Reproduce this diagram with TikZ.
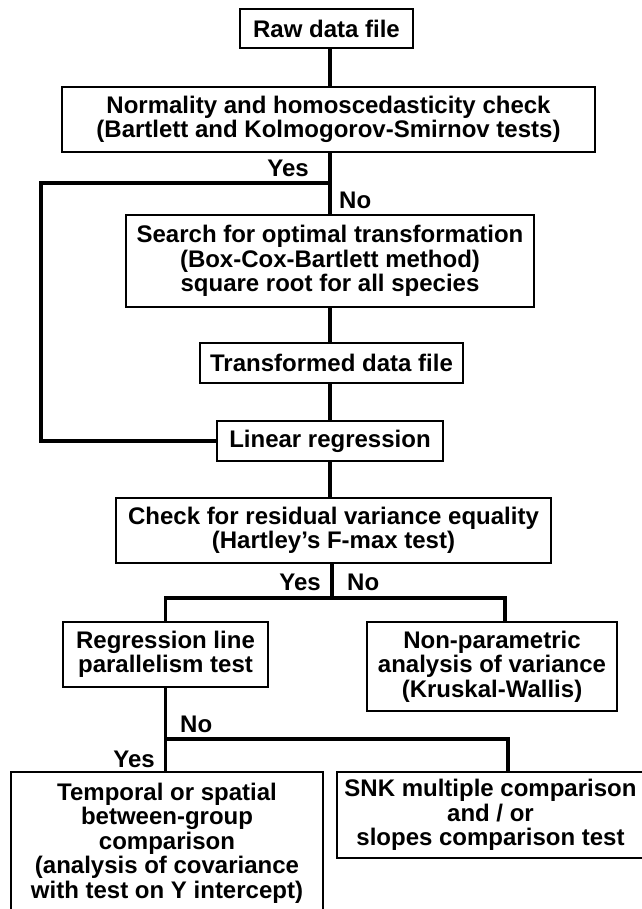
\documentclass[tikz,border=0pt]{standalone}
\usepackage{fontspec}
\setmainfont{Liberation Sans}
\begin{document}
\begin{tikzpicture}[x=1pt,y=-1pt,
  box/.style={draw, line width=1.5pt, align=center, inner sep=0pt,
    font=\bfseries\fontsize{24}{24.5}\selectfont},
  lbl/.style={inner sep=0pt, font=\bfseries\fontsize{24}{24.5}\selectfont},
  wire/.style={line width=3.5pt}]
\useasboundingbox (0,0) rectangle (641,909);
\fill[white] (0,0) rectangle (641,909);
% boxes
\node[box, minimum width=173pt, minimum height=39pt] (raw) at (326.5,28.5) {Raw data file};
\node[box, minimum width=533pt, minimum height=65pt] (norm) at (328.5,119.5)
  {Normality and homoscedasticity check\\(Bartlett and Kolmogorov-Smirnov tests)};
\node[box, minimum width=408pt, minimum height=92pt] (search) at (330,261)
  {Search for optimal transformation\\(Box-Cox-Bartlett method)\\square root for all species};
\node[box, minimum width=263pt, minimum height=40pt] (trans) at (331.5,363) {Transformed data file};
\node[box, minimum width=226pt, minimum height=40pt] (linear) at (330,441) {Linear regression};
\node[box, minimum width=435pt, minimum height=65pt] (check) at (333.5,530.5)
  {Check for residual variance equality\\(Hartley’s F-max test)};
\node[box, minimum width=205pt, minimum height=65pt] (regr) at (165.5,654.5)
  {Regression line\\parallelism test};
\node[box, minimum width=250pt, minimum height=89pt] (nonpar) at (492,666.5)
  {Non-parametric\\analysis of variance\\(Kruskal-Wallis)};
\node[box, minimum width=312pt, minimum height=142pt] (temp) at (167,843)
  {Temporal or spatial\\between-group\\comparison\\(analysis of covariance\\with test on Y intercept)};
\node[box, minimum width=307pt, minimum height=86pt] (snk) at (490.5,815)
  {SNK multiple comparison\\and / or\\slopes comparison test};
% connectors
\coordinate (sp) at (330,0);
\coordinate (br1) at (330,183);
\coordinate (lp1) at (41,183);
\draw[wire] (raw.south -| sp) -- (norm.north -| sp);
\draw[wire] (norm.south -| sp) -- (search.north -| sp);
\draw[wire] (br1) -- (lp1) |- (linear.west);
\draw[wire] (search.south -| sp) -- (trans.north -| sp);
\draw[wire] (trans.south -| sp) -- (linear.north -| sp);
\draw[wire] (linear.south -| sp) -- (check.north -| sp);
\coordinate (br2) at (332,598);
\coordinate (d2) at (505,598);
\draw[wire] (check.south -| br2) -- (br2);
\draw[wire] (regr.north) |- (br2) -- (d2) -- (d2 |- nonpar.north);
\coordinate (br3) at (166,739);
\coordinate (d3) at (508,739);
\draw[wire] (regr.south) -- (regr.south |- temp.north);
\draw[wire] (br3) -- (d3) -- (d3 |- snk.north);
% labels
\node[lbl, anchor=east] (y1) at (309,168) {Yes};
\node[lbl, anchor=west] (n1) at (339,200) {No};
\node[lbl, anchor=east] (y2) at (321,582) {Yes};
\node[lbl, anchor=west] (n2) at (347,582) {No};
\node[lbl, anchor=west] (n3) at (180,724) {No};
\node[lbl, anchor=east] (y3) at (155,759) {Yes};
\end{tikzpicture}
\end{document}
